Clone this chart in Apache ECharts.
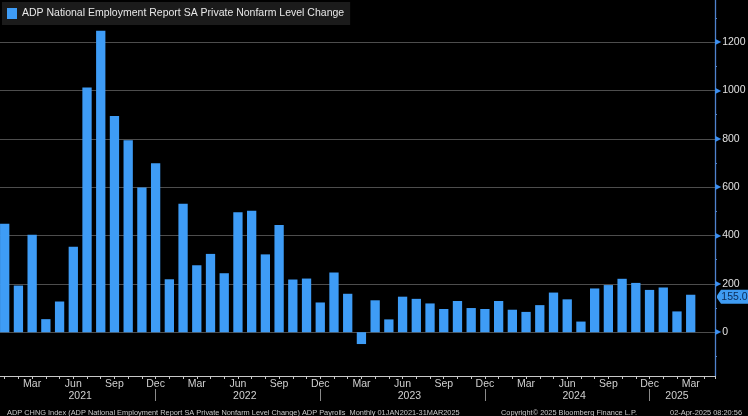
<!DOCTYPE html>
<html>
<head>
<meta charset="utf-8">
<script src="https://cdn.jsdelivr.net/npm/echarts@6/dist/echarts.min.js"></script>
<style>
html,body{margin:0;padding:0;background:#000;}
#c{width:748px;height:416px;}
</style>
</head>
<body>
<div id="c"></div>
<script>
// ---------- data ----------
const seriesName = 'ADP National Employment Report SA Private Nonfarm Level Change';
const categories = [
  '2021-01','2021-02','2021-03','2021-04','2021-05','2021-06','2021-07','2021-08','2021-09','2021-10','2021-11','2021-12',
  '2022-01','2022-02','2022-03','2022-04','2022-05','2022-06','2022-07','2022-08','2022-09','2022-10','2022-11','2022-12',
  '2023-01','2023-02','2023-03','2023-04','2023-05','2023-06','2023-07','2023-08','2023-09','2023-10','2023-11','2023-12',
  '2024-01','2024-02','2024-03','2024-04','2024-05','2024-06','2024-07','2024-08','2024-09','2024-10','2024-11','2024-12',
  '2025-01','2025-02','2025-03'
];
const values = [
  449, 193, 403, 54, 127, 354, 1013, 1247, 895, 794, 599, 699,
  219, 531, 277, 324, 244, 496, 503, 322, 444, 218, 222, 123,
  247, 159, -49, 132, 53, 147, 138, 119, 96, 129, 100, 96,
  129, 93, 84, 112, 164, 136, 44, 181, 195, 221, 204, 175,
  185, 86, 155
];
const monthNames = ['Jan','Feb','Mar','Apr','May','Jun','Jul','Aug','Sep','Oct','Nov','Dec'];
const labeledMonths = ['Mar','Jun','Sep','Dec'];
const yTickValues = [0, 200, 400, 600, 800, 1000, 1200];
const footerLeft = 'ADP CHNG Index (ADP National Employment Report SA Private Nonfarm Level Change) ADP Payrolls  Monthly 01JAN2021-31MAR2025';
const footerMid = 'Copyright\u00a9 2025 Bloomberg Finance L.P.';
const footerRight = '02-Apr-2025 08:20:56';

// ---------- layout (pixels) ----------
const W = 748, H = 416;
const firstBarX = 4.7, monthPx = 13.72;     // x position of first month, px per month
const axisRightX = 715;                      // right value axis line
const zeroY = 332.2, unitPx = 0.24167;       // y of 0, px per unit
const axisBottomY = 376;                     // x axis line
const yMaxVal = 1400;

const xMin = -1;
const gridLeft = firstBarX - monthPx;                 // x of xMin
const xMax = xMin + (axisRightX - gridLeft) / monthPx;
const gridTop = zeroY - yMaxVal * unitPx;
const yMin = -(axisBottomY - zeroY) / unitPx;

// ---------- derived helpers ----------
const monthOf = i => monthNames[parseInt(categories[i].slice(5), 10) - 1];
const monthLabelIdx = categories.map((c, i) => i).filter(i => labeledMonths.includes(monthOf(i)));
const years = [...new Set(categories.map(c => c.slice(0, 4)))];
const yearCenters = years.map(y => {
  const idx = categories.map((c, i) => c.startsWith(y) ? i : -1).filter(i => i >= 0);
  return (idx[0] + idx[idx.length - 1]) / 2;
});
const decIdx = categories.map((c, i) => i).filter(i => monthOf(i) === 'Dec');
const barData = values.map((v, i) => [i, v]);
const lastIdx = values.length - 1;

const axisFont = 'Liberation Sans, Arial, sans-serif';
const barColor = '#3e9cf6';
const axisBlue = '#4f82cc';

const chart = echarts.init(document.getElementById('c'));
chart.setOption({
  backgroundColor: '#000',
  animation: false,
  title: [
    { text: footerLeft, left: 2, top: 404, textStyle: { color: '#c8c8c8', fontSize: 7.4, fontWeight: 'normal', fontFamily: axisFont } },
    { text: footerMid, left: 496, top: 404, textStyle: { color: '#c8c8c8', fontSize: 7.4, fontWeight: 'normal', fontFamily: axisFont } },
    { text: footerRight, right: 1, top: 404, textStyle: { color: '#c8c8c8', fontSize: 7.4, fontWeight: 'normal', fontFamily: axisFont } }
  ],
  legend: {
    data: [{ name: seriesName, icon: 'rect' }],
    left: 2, top: 2,
    padding: [6, 6, 6, 5],
    itemWidth: 10, itemHeight: 11,
    backgroundColor: '#1b1b1b',
    selectedMode: false,
    textStyle: { color: '#e8e8e8', fontSize: 10.5, fontFamily: axisFont }
  },
  grid: {
    left: gridLeft, right: W - axisRightX,
    top: gridTop, bottom: H - axisBottomY,
    containLabel: false,
    outerBoundsMode: 'none'
  },
  xAxis: [
    {
      type: 'value', min: xMin, max: xMax, interval: 1, position: 'bottom',
      axisLine: { onZero: false, lineStyle: { color: '#c8c8c8', width: 1 } },
      axisTick: { show: true, length: 3, lineStyle: { color: '#c8c8c8' } },
      axisLabel: {
        customValues: monthLabelIdx,
        formatter: v => monthOf(Math.round(v)),
        color: '#d0d0d0', fontSize: 10.5, fontFamily: axisFont, margin: 3
      },
      splitLine: { show: false }
    },
    {
      type: 'value', min: xMin, max: xMax, position: 'bottom', offset: 13,
      axisLine: { show: false, onZero: false },
      axisTick: { show: true, customValues: decIdx, length: 12, lineStyle: { color: '#8a8a8a' } },
      axisLabel: {
        customValues: yearCenters,
        formatter: v => years[yearCenters.indexOf(v)] || '',
        color: '#d0d0d0', fontSize: 10.5, fontFamily: axisFont, margin: 2
      },
      splitLine: { show: false }
    }
  ],
  yAxis: {
    type: 'value', position: 'right', min: yMin, max: yMaxVal,
    splitNumber: 8, minInterval: 200, maxInterval: 200,
    axisLine: { show: true, onZero: false, lineStyle: { color: axisBlue, width: 1.3 } },
    axisTick: { show: false },
    minorTick: { show: true, splitNumber: 2, length: 2, lineStyle: { color: axisBlue, width: 1 } },
    axisLabel: {
      margin: 0,
      formatter: v => yTickValues.includes(v) ? '{t|\u25B6}{v|' + v + '}' : '',
      rich: {
        t: { color: '#3d8ff0', fontSize: 8, fontFamily: 'DejaVu Sans', padding: [0, 1, 0, 0] },
        v: { color: '#e0e0e0', fontSize: 10.5, fontFamily: axisFont }
      }
    },
    splitLine: { show: true, lineStyle: { color: '#4d4d4d', width: 1.2 } }
  },
  series: [{
    name: seriesName,
    type: 'bar',
    xAxisIndex: 0,
    data: barData,
    barWidth: 9.3,
    itemStyle: { color: barColor },
    markPoint: {
      symbol: 'path://M0,6 L4,1 L31,1 L31,13 L4,13 L0,8 Z',
      symbolSize: [31, 14],
      symbolOffset: [17.5, 2],
      itemStyle: { color: '#3f9cf3' },
      label: {
        show: true, position: 'inside', offset: [2, 0],
        formatter: p => p.value.toFixed(1),
        color: '#0d2c58', fontSize: 10.5, fontFamily: axisFont
      },
      data: [{ coord: [xMax, values[lastIdx]], value: values[lastIdx] }]
    }
  }]
});
</script>
</body>
</html>
